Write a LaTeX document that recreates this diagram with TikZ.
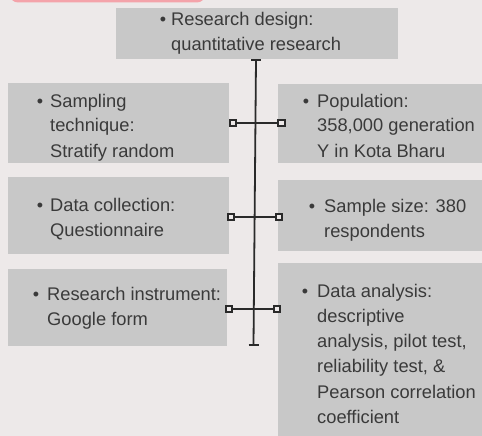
\documentclass[tikz,border=0pt]{standalone}
\usepackage{fontspec}
\setmainfont{Liberation Sans}
\definecolor{bgc}{HTML}{EDE9E9}
\definecolor{boxc}{HTML}{C8C8C8}
\definecolor{txtc}{HTML}{3A3A3A}
\definecolor{linec}{HTML}{2A2A2A}
\definecolor{pinkc}{HTML}{F4A3AA}
\tikzset{
  box/.style={fill=boxc, draw=none, inner sep=0pt},
  txt/.style={anchor=base west, inner sep=0pt, align=left, text=txtc,
    font=\fontsize{18.3}{25}\selectfont},
  bul/.style={anchor=base, inner sep=0pt, text=txtc, font=\fontsize{18}{25}\selectfont},
  sq/.style={draw=linec, fill=bgc, line width=1.6pt, minimum size=6.5pt, inner sep=0pt},
  conn/.style={draw=linec, line width=1.8pt},
}
\begin{document}
\begin{tikzpicture}[x=1pt, y=-1pt]
\useasboundingbox (0,0) rectangle (482,436);
\fill[bgc] (0,0) rectangle (482,436);
\fill[pinkc, rounded corners=8pt] (10,-30) rectangle (205,2.5);
% boxes
\node[box, minimum width=282pt, minimum height=51pt] (btop) at (257,33.5) {};
\node[box, minimum width=221pt, minimum height=79pt] (bl1) at (118.5,123) {};
\node[box, minimum width=204pt, minimum height=79pt] (br1) at (380,123.5) {};
\node[box, minimum width=221pt, minimum height=77pt] (bl2) at (118.5,215.5) {};
\node[box, minimum width=204pt, minimum height=71pt] (br2) at (380,215.5) {};
\node[box, minimum width=219pt, minimum height=77pt] (bl3) at (117.5,307.5) {};
\node[box, minimum width=204pt, minimum height=174pt] (br3) at (380,350) {};
% texts (anchored at the baseline of their last line)
\node[bul] (bt0) at (163,26) {•};
\node[txt] (tt0) at (171,51) {Research design:\\quantitative research};
\node[bul] (bt1) at (40,107) {•};
\node[txt] (tl1) at (50,157) {Sampling\\technique:\\Stratify random};
\node[bul] (bt2) at (306,107) {•};
\node[txt] (tr1) at (317,157) {Population:\\358,000 generation\\Y in Kota Bharu};
\node[bul] (bt3) at (40,211) {•};
\node[txt] (tl2) at (50,236) {Data collection:\\Questionnaire};
\node[bul] (bt4) at (312,212) {•};
\node[txt] (tr2) at (324,237) {Sample size: 380\\respondents};
\node[bul] (bt5) at (36,300) {•};
\node[txt] (tl3) at (47,325) {Research instrument:\\Google form};
\node[bul] (bt6) at (305,297) {•};
\node[txt, font=\fontsize{18.3}{25.3}\selectfont] (tr3) at (317,423.5) {Data analysis:\\descriptive\\analysis, pilot test,\\reliability test, \&\\Pearson correlation\\coefficient};
% vertical spine
\coordinate (vtop) at (256,60);
\coordinate (vbot) at (253.5,345);
\coordinate (tl) at (251,60);
\coordinate (tr) at (261,60);
\coordinate (bl) at (248.5,345);
\coordinate (br) at (258.5,345);
\draw[conn] (vtop) -- (vbot);
\draw[conn] (tl) -- (tr);
\draw[conn] (bl) -- (br);
% connectors
\node[sq] (sl1) at (233,123) {};
\node[sq] (sr1) at (281.5,123) {};
\node[sq] (sl2) at (231,217) {};
\node[sq] (sr2) at (279,217) {};
\node[sq] (sl3) at (229,309) {};
\node[sq] (sr3) at (277,309) {};
\draw[conn] (sl1) -- (sr1);
\draw[conn] (sl2) -- (sr2);
\draw[conn] (sl3) -- (sr3);
\end{tikzpicture}
\end{document}
